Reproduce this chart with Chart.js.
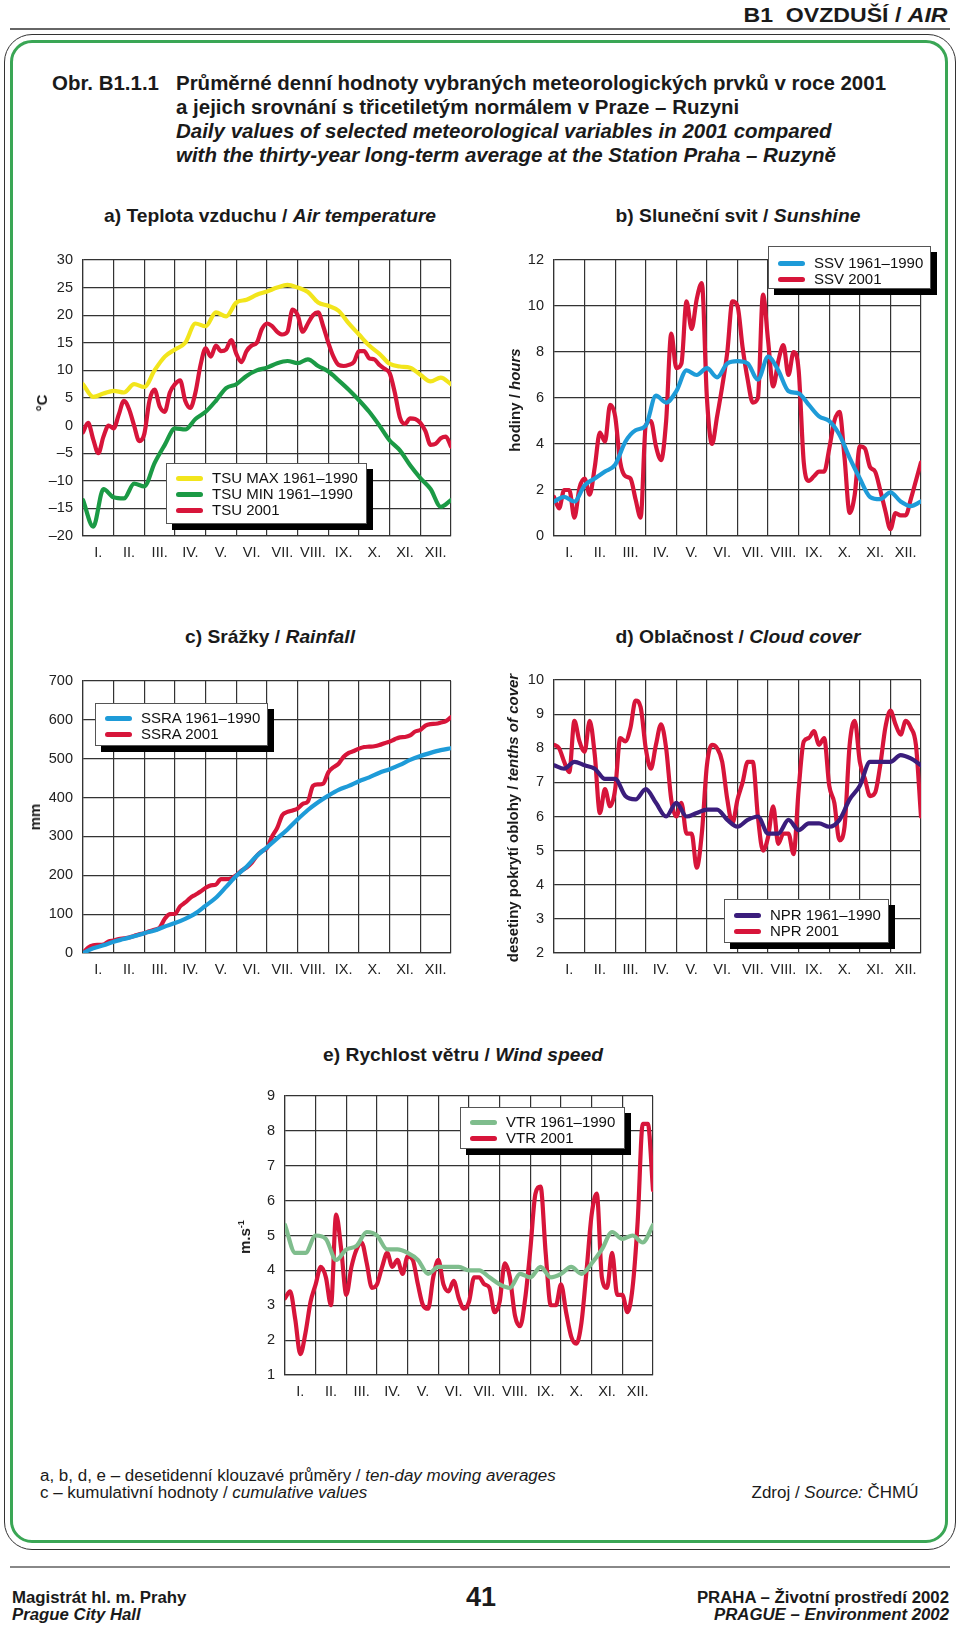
<!DOCTYPE html>
<html lang="cs">
<head>
<meta charset="utf-8">
<title>Obr. B1.1.1</title>
<script src="https://cdn.jsdelivr.net/npm/chart.js@4.4.1/dist/chart.umd.min.js"></script>
<style>
  body { margin: 0; background: #fff; font-family: 'Liberation Sans', Arial, Helvetica, sans-serif; color: #1a1a1a; }
  #page { position: relative; width: 960px; height: 1625px; overflow: hidden; }
  .abs { position: absolute; white-space: nowrap; }
  .hdr { right: 12px; top: 2px; font: bold 21px/26px 'Liberation Sans', Arial, sans-serif; transform: scaleX(1.1); transform-origin: right center; }
  .rule { position: absolute; height: 1.5px; background: #666; }
  .frame-out { position: absolute; left: 4px; top: 34px; width: 950px; height: 1514px; border: 1.3px solid #333; border-radius: 28px; }
  .frame-in { position: absolute; left: 10px; top: 40px; width: 932px; height: 1497px; border: 3px solid #3aa655; border-radius: 22px; }
  .title { font: bold 19.5px/24px 'Liberation Sans', Arial, sans-serif; transform: scaleX(1.05); transform-origin: left top; }
  .ptitle { font: bold 18.5px/22px 'Liberation Sans', Arial, sans-serif; transform: translateX(-50%) scaleX(1.04); }
  .ytitle { font: bold 15px/18px 'Liberation Sans', Arial, sans-serif; transform: translate(-50%, -50%) rotate(-90deg); }
  .ytitle sup { font-size: 9px; }
  canvas { position: absolute; }
  .legend { position: absolute; box-sizing: border-box; background: #fff; border: 1px solid #555; box-shadow: 6px 6px 0 #000; padding-left: 9px; }
  .lg-row { display: flex; align-items: center; height: 16px; font: 15px/16px 'Liberation Sans', Arial, sans-serif; color: #111; }
  .lg-line { display: inline-block; width: 27px; height: 5px; border-radius: 3px; margin-right: 9px; }
  .note { font: 16px/17px 'Liberation Sans', Arial, sans-serif; transform: scaleX(1.06); transform-origin: left top; }
  .note.r { transform-origin: right top; }
  .foot { font: bold 16.8px/18px 'Liberation Sans', Arial, sans-serif; }
</style>
</head>
<body>
<div id="page">
  <div class="abs hdr">B1&nbsp; OVZDUŠÍ / <i>AIR</i></div>
  <div class="rule" style="left:10px; top:28px; width:940px;"></div>
  <div class="frame-out"></div>
  <div class="frame-in"></div>

  <div class="abs title" style="left:52px; top:71px;">Obr. B1.1.1</div>
  <div class="abs title" style="left:176px; top:71px;">
    Průměrné denní hodnoty vybraných meteorologických prvků v roce 2001<br>
    a jejich srovnání s třicetiletým normálem v Praze – Ruzyni<br>
    <i>Daily values of selected meteorological variables in 2001 compared</i><br>
    <i>with the thirty-year long-term average at the Station Praha – Ruzyně</i>
  </div>

  <div class="abs ptitle" style="left:270px; top:205px;">a) Teplota vzduchu / <i>Air temperature</i></div>
  <div class="abs ptitle" style="left:738px; top:205px;">b) Sluneční svit / <i>Sunshine</i></div>
  <div class="abs ptitle" style="left:270px; top:626px;">c) Srážky / <i>Rainfall</i></div>
  <div class="abs ptitle" style="left:738px; top:626px;">d) Oblačnost / <i>Cloud cover</i></div>
  <div class="abs ptitle" style="left:463px; top:1044px;">e) Rychlost větru / <i>Wind speed</i></div>

  <canvas id="chartA" width="438" height="330" style="left:23px; top:240px;"></canvas>
  <canvas id="chartB" width="437" height="330" style="left:494px; top:240px;"></canvas>
  <canvas id="chartC" width="438" height="326" style="left:23px; top:661px;"></canvas>
  <canvas id="chartD" width="437" height="327" style="left:494px; top:660px;"></canvas>
  <canvas id="chartE" width="438" height="333" style="left:225px; top:1076px;"></canvas>

  <div class="abs ytitle" style="left:42px; top:403px;">°C</div>
  <div class="abs ytitle" style="left:515px; top:400px;">hodiny / <i>hours</i></div>
  <div class="abs ytitle" style="left:35px; top:817px;">mm</div>
  <div class="abs ytitle" style="left:513px; top:818px;">desetiny pokrytí oblohy / <i>tenths of cover</i></div>
  <div class="abs ytitle" style="left:243px; top:1237px;">m.s<sup>-1</sup></div>

  <div class="legend" id="legA" style="left:166px; top:463px; width:201px; height:61px; padding-top:6px;"></div>
  <div class="legend" id="legB" style="left:768px; top:246px; width:163px; height:43px; padding-top:8px;"></div>
  <div class="legend" id="legC" style="left:95px; top:703px; width:173px; height:43px; padding-top:6px;"></div>
  <div class="legend" id="legD" style="left:724px; top:899px; width:165px; height:44px; padding-top:7px;"></div>
  <div class="legend" id="legE" style="left:460px; top:1107px; width:165px; height:42px; padding-top:6px;"></div>

  <div class="abs note" style="left:40px; top:1467px;">a, b, d, e – desetidenní klouzavé průměry / <i>ten-day moving averages</i></div>
  <div class="abs note" style="left:40px; top:1484px;">c – kumulativní hodnoty / <i>cumulative values</i></div>
  <div class="abs note r" style="right:42px; top:1484px;">Zdroj / <i>Source:</i> ČHMÚ</div>

  <div class="rule" style="left:10px; top:1566px; width:940px; background:#888;"></div>
  <div class="abs foot" style="left:12px; top:1589px;">Magistrát hl. m. Prahy</div>
  <div class="abs foot" style="left:12px; top:1606px;"><i>Prague City Hall</i></div>
  <div class="abs foot" style="left:481px; top:1583px; font-size:27px; line-height:28px; transform:translateX(-50%);">41</div>
  <div class="abs foot" style="right:11px; top:1589px;">PRAHA – Životní prostředí 2002</div>
  <div class="abs foot" style="right:11px; top:1606px;"><i>PRAGUE – Environment 2002</i></div>
</div>

<script>
// ===== data =====
const monthLabels = ['I.', 'II.', 'III.', 'IV.', 'V.', 'VI.', 'VII.', 'VIII.', 'IX.', 'X.', 'XI.', 'XII.'];

// tick values per panel
const tempTicks  = [-20, -15, -10, -5, 0, 5, 10, 15, 20, 25, 30];
const sunTicks   = [0, 2, 4, 6, 8, 10, 12];
const rainTicks  = [0, 100, 200, 300, 400, 500, 600, 700];
const cloudTicks = [2, 3, 4, 5, 6, 7, 8, 9, 10];
const windTicks  = [1, 2, 3, 4, 5, 6, 7, 8, 9];

// a) temperature, °C  (normals every ~10 days, 2001 every ~5 days)
const tsuMax = [7.5, 5.2, 5.8, 6.3, 6.0, 7.5, 7.0, 10.0, 12.5, 13.8, 15.0, 18.5, 18.0, 20.5, 19.8, 22.3, 22.8, 23.7, 24.3,
  25.0, 25.5, 25.0, 24.2, 22.3, 21.7, 20.8, 18.5, 16.5, 14.5, 13.0, 11.2, 10.7, 10.5, 9.2, 8.0, 8.7, 7.5];
const tsuMin = [-13.5, -18.3, -11.5, -13.0, -13.2, -10.5, -11.0, -6.8, -3.5, -0.5, -0.7, 1.2, 2.5, 4.5, 6.8, 7.5, 9.0, 10.0,
  10.5, 11.3, 11.7, 11.3, 12.0, 10.8, 9.8, 8.2, 6.5, 4.6, 2.5, 0.0, -2.7, -4.5, -7.2, -9.5, -11.5, -14.7, -13.5];
const tsu2001 = [-1.2, 0.5, -2.5, -5.0, -2.0, 0.0, -0.5, 2.0, 4.5, 3.0, 0.0, -2.8, -1.5, 4.5, 6.5, 3.5, 2.5, 6.0, 7.5, 8.2,
  4.5, 3.2, 6.0, 11.0, 14.0, 12.5, 14.5, 13.5, 13.8, 15.5, 13.0, 11.5, 13.5, 14.5, 15.0, 17.5, 18.5, 18.0, 17.0, 16.5,
  17.0, 21.0, 20.0, 17.0, 18.5, 20.0, 20.5, 18.0, 15.0, 12.5, 11.0, 10.8, 11.0, 11.5, 13.5, 13.5, 12.2, 12.0, 11.0, 10.3,
  9.5, 6.0, 1.5, 0.3, 1.3, 1.2, 0.5, -1.0, -3.5, -3.3, -2.3, -2.0, -3.8];

// b) sunshine, hours
const ssvNorm = [1.5, 1.7, 1.5, 2.2, 2.5, 2.8, 3.1, 4.1, 4.6, 4.8, 6.1, 5.8, 6.3, 7.2, 7.0, 7.3, 6.9, 7.5, 7.6, 7.5,
  6.8, 7.8, 7.2, 6.3, 6.2, 5.7, 5.2, 5.0, 4.4, 3.4, 2.5, 1.7, 1.6, 1.9, 1.5, 1.3, 1.5];
const ssv2001 = [1.7, 1.2, 2.0, 2.0, 0.8, 2.1, 2.5, 1.8, 3.0, 4.5, 4.1, 5.7, 5.2, 3.2, 2.6, 2.5, 1.6, 0.8, 4.8, 5.0,
  3.9, 3.3, 5.0, 8.8, 7.3, 7.5, 10.2, 9.0, 10.3, 11.0, 6.0, 4.0, 5.2, 6.5, 8.0, 10.2, 10.0, 8.2, 6.8, 5.8,
  6.0, 10.5, 8.5, 6.5, 7.6, 8.3, 7.0, 8.0, 7.2, 3.2, 2.4, 2.6, 2.8, 2.8, 3.8, 5.0, 5.4, 3.4, 1.0, 1.8,
  3.9, 3.8, 3.0, 2.8, 2.0, 1.1, 0.3, 1.0, 0.9, 0.9, 1.6, 2.4, 3.2];

// c) rainfall, cumulative mm
const ssraNorm = [0, 12, 20, 29, 36, 43, 51, 58, 68, 77, 88, 102, 122, 142, 170, 199, 222, 250, 272, 295,
  318, 344, 368, 388, 405, 420, 430, 442, 452, 464, 473, 484, 497, 507, 515, 522, 527];
const ssra2001 = [0, 14, 20, 21, 22, 30, 32, 36, 38, 40, 44, 48, 51, 56, 60, 65, 88, 100, 101, 120,
  130, 142, 150, 158, 168, 174, 176, 190, 190, 192, 200, 212, 220, 232, 250, 262, 270, 300, 322, 355,
  363, 367, 372, 384, 390, 430, 434, 436, 465, 478, 487, 505, 515, 520, 526, 530, 531, 532, 535, 540,
  544, 550, 555, 556, 560, 570, 574, 585, 589, 590, 593, 597, 607];

// d) cloud cover, tenths
const nprNorm = [7.5, 7.4, 7.6, 7.5, 7.4, 7.1, 7.1, 6.6, 6.5, 6.8, 6.4, 6.0, 6.4, 6.0, 6.1, 6.2, 6.2, 5.9, 5.7, 5.9,
  6.0, 5.5, 5.5, 5.9, 5.6, 5.8, 5.8, 5.7, 5.9, 6.5, 6.9, 7.6, 7.6, 7.6, 7.8, 7.7, 7.5];
const npr2001 = [8.1, 8.0, 7.6, 7.3, 8.8, 8.2, 7.9, 8.8, 7.8, 6.1, 6.8, 6.3, 6.8, 8.3, 8.2, 8.6, 9.4, 9.2, 8.0, 7.4,
  8.1, 8.7, 8.0, 6.5, 6.0, 6.4, 5.5, 5.5, 4.5, 5.5, 7.5, 8.1, 8.0, 7.6, 6.5, 5.8, 6.5, 7.0, 7.6, 7.6,
  6.0, 5.0, 5.4, 6.3, 5.2, 5.5, 5.5, 4.9, 6.8, 8.2, 8.3, 8.5, 8.1, 8.3, 6.9, 6.4, 5.3, 5.7, 8.1, 8.8,
  7.6, 7.1, 6.6, 6.7, 7.5, 8.6, 9.1, 8.7, 8.4, 8.8, 8.6, 8.1, 6.0];

// e) wind speed, m/s
const vtrNorm = [5.3, 4.5, 4.5, 5.0, 4.9, 4.3, 4.6, 4.7, 5.1, 5.0, 4.6, 4.6, 4.5, 4.3, 3.9, 4.1, 4.1, 4.1, 4.0, 4.0,
  3.8, 3.6, 3.5, 3.9, 3.8, 4.1, 3.8, 3.9, 4.1, 3.9, 4.2, 4.6, 5.1, 4.9, 5.0, 4.8, 5.3];
const vtr2001 = [3.2, 3.4, 2.6, 1.6, 2.2, 3.1, 3.6, 4.1, 3.8, 3.0, 5.6, 4.6, 3.3, 4.1, 4.6, 4.8, 4.2, 3.5, 3.6, 4.1,
  4.5, 4.1, 4.3, 3.9, 4.4, 4.3, 3.6, 3.0, 2.9, 3.8, 4.3, 3.6, 3.4, 3.7, 3.2, 2.9, 3.1, 3.8, 3.8, 3.6,
  3.5, 2.8, 3.1, 4.2, 3.8, 2.7, 2.4, 3.2, 4.6, 6.2, 6.4, 4.5, 3.0, 3.0, 3.6, 2.8, 2.1, 1.9, 2.5, 4.0,
  5.6, 6.2, 3.8, 3.5, 4.5, 3.3, 3.3, 2.8, 3.5, 5.4, 8.2, 8.2, 6.3];

// ===== colours =====
const C = {
  yellow: '#f2e51c', green: '#1b9a45', red: '#d7153a', blue: '#1e9bd8',
  purple: '#3b1d7c', sage: '#7fbd8d', grid: '#333333'
};

Chart.defaults.font.family = "'Liberation Sans', Arial, Helvetica, sans-serif";
Chart.defaults.font.size = 14.5;
Chart.defaults.color = '#222';

// values are spread evenly over the 12 months of the x axis
function toPoints(values) {
  return values.map((v, i) => ({ x: i * 12 / (values.length - 1), y: v }));
}

function fmtTick(v) {
  return v < 0 ? '–' + Math.abs(v) : String(v);
}

// plot area = canvas minus 60px on the left (y axis), 20px top, 10px right, 34px bottom (x axis)
function buildChart(canvasId, series, yTicks) {
  return new Chart(document.getElementById(canvasId), {
    type: 'line',
    data: {
      datasets: series.map(s => ({
        label: s.label,
        data: toPoints(s.values),
        borderColor: s.color,
        backgroundColor: s.color,
        borderWidth: 4.2,
        pointRadius: 0,
        fill: false,
        cubicInterpolationMode: 'monotone',
        borderCapStyle: 'round',
        borderJoinStyle: 'round'
      }))
    },
    options: {
      responsive: false,
      animation: false,
      layout: { padding: { top: 20, right: 10, left: 0, bottom: 0 } },
      plugins: { legend: { display: false }, tooltip: { enabled: false } },
      scales: {
        x: {
          type: 'linear', min: 0, max: 12,
          afterBuildTicks: s => {
            const t = [];
            for (let i = 0; i <= 12; i++) {
              t.push({ value: i });
              if (i < 12) t.push({ value: i + 0.5 });
            }
            s.ticks = t;
          },
          afterFit: s => { s.height = 34; },
          grid: {
            drawTicks: false,
            lineWidth: 1.2,
            color: ctx => (ctx.tick && Number.isInteger(ctx.tick.value)) ? C.grid : 'rgba(0,0,0,0)'
          },
          border: { color: C.grid, width: 1.2 },
          ticks: {
            autoSkip: false, maxRotation: 0, minRotation: 0, padding: 8,
            callback: v => Number.isInteger(v) ? '' : monthLabels[Math.floor(v)]
          }
        },
        y: {
          min: yTicks[0], max: yTicks[yTicks.length - 1],
          afterBuildTicks: s => { s.ticks = yTicks.map(v => ({ value: v })); },
          afterFit: s => { s.width = 60; },
          grid: { drawTicks: false, color: C.grid, lineWidth: 1.2 },
          border: { color: C.grid, width: 1.2 },
          ticks: { padding: 10, callback: v => fmtTick(v) }
        }
      }
    }
  });
}

function buildLegend(chart, boxId) {
  const box = document.getElementById(boxId);
  chart.data.datasets.forEach(ds => {
    const row = document.createElement('div');
    row.className = 'lg-row';
    row.innerHTML = `<span class="lg-line" style="background:${ds.borderColor}"></span><span>${ds.label}</span>`;
    box.appendChild(row);
  });
}

const chartA = buildChart('chartA', [
  { label: 'TSU MAX 1961–1990', values: tsuMax, color: C.yellow },
  { label: 'TSU MIN 1961–1990', values: tsuMin, color: C.green },
  { label: 'TSU 2001', values: tsu2001, color: C.red }
], tempTicks);
buildLegend(chartA, 'legA');

const chartB = buildChart('chartB', [
  { label: 'SSV 1961–1990', values: ssvNorm, color: C.blue },
  { label: 'SSV 2001', values: ssv2001, color: C.red }
], sunTicks);
buildLegend(chartB, 'legB');

const chartC = buildChart('chartC', [
  { label: 'SSRA 1961–1990', values: ssraNorm, color: C.blue },
  { label: 'SSRA 2001', values: ssra2001, color: C.red }
], rainTicks);
buildLegend(chartC, 'legC');

const chartD = buildChart('chartD', [
  { label: 'NPR 1961–1990', values: nprNorm, color: C.purple },
  { label: 'NPR 2001', values: npr2001, color: C.red }
], cloudTicks);
buildLegend(chartD, 'legD');

const chartE = buildChart('chartE', [
  { label: 'VTR 1961–1990', values: vtrNorm, color: C.sage },
  { label: 'VTR 2001', values: vtr2001, color: C.red }
], windTicks);
buildLegend(chartE, 'legE');
</script>
</body>
</html>
